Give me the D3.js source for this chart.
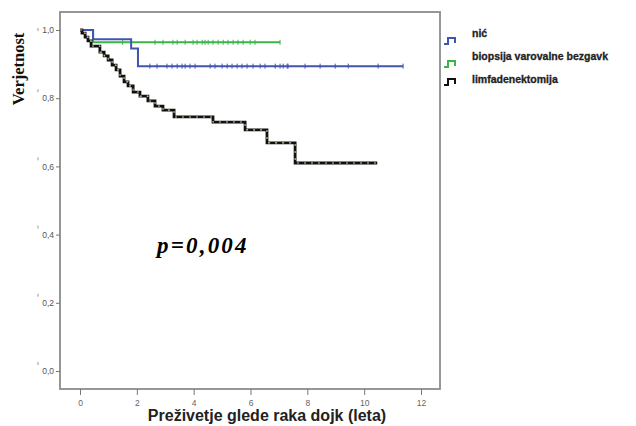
<!DOCTYPE html>
<html><head><meta charset="utf-8">
<script src="https://cdn.jsdelivr.net/npm/d3@7"></script>
<style>body{margin:0;background:#fff;}svg{display:block;}</style>
</head><body>
<svg id="c" width="636" height="426"></svg>
<script>
// ---- data ----
const seriesNames = ["nić", "biopsija varovalne bezgavk", "limfadenektomija"];
const seriesColors = ["#3f55b0", "#3cb44a", "#111111"];
// step curves: [time, survival after drop]
const blueSteps = [[0,1],[0.46,0.973],[1.80,0.946],[2.04,0.894]];
const blueEnd = 11.37;
const blueCensor = [2.46,2.71,3.06,3.24,3.42,3.59,3.70,3.87,4.05,4.58,4.75,5.00,5.18,5.35,5.53,5.70,5.88,6.09,6.34,6.51,6.87,7.04,7.29,7.15,7.32,7.92,8.45,8.98,9.44,10.49,11.37];
const greenSteps = [[0,1],[0.46,0.964]];
const greenEnd = 7.04;
const greenCensor = [1.50,2.64,2.92,3.27,3.42,3.70,3.98,4.12,4.30,4.40,4.51,4.68,4.86,5.04,5.21,5.39,5.56,5.74,5.99,6.16,7.04];
const blackSteps = [[0,1],[0.07,0.991],[0.18,0.979],[0.28,0.968],[0.39,0.953],[0.70,0.935],[0.85,0.924],[0.99,0.912],[1.13,0.897],[1.27,0.883],[1.41,0.865],[1.55,0.848],[1.69,0.836],[1.87,0.818],[2.11,0.806],[2.39,0.792],[2.64,0.777],[2.92,0.765],[3.31,0.745],[4.68,0.730],[5.81,0.707],[6.58,0.669],[7.57,0.610]];
const blackEnd = 10.46;
const xTicks = [0,2,4,6,8,10,12];
const yTicks = [0,0.2,0.4,0.6,0.8,1.0];
const xTitle = "Preživetje glede raka dojk (leta)";
const yTitle = "Verjetnost";
const pText = "p=0,004";

// ---- layout ----
const svg = d3.select("#c");
const x = d3.scaleLinear().domain([0,12]).range([80,421]);
const y = d3.scaleLinear().domain([0,1]).range([371,30]);
const frame = {l:60, t:12, r:440, b:389};

// frame
svg.append("rect").attr("x",frame.l).attr("y",frame.t)
  .attr("width",frame.r-frame.l).attr("height",frame.b-frame.t)
  .attr("fill","none").attr("stroke","#8c8c8c").attr("stroke-width",1.8);

// y axis
const fmt = d => d3.format(".1f")(d).replace(".", ",");
const yAxis = svg.append("g").attr("transform",`translate(${frame.l},0)`)
  .call(d3.axisLeft(y).tickValues(yTicks).tickSize(4).tickFormat(fmt));
yAxis.select(".domain").remove();
yAxis.selectAll("line").attr("stroke","#777");
yAxis.selectAll("text").attr("fill","#555").attr("font-family","Liberation Sans, Arial").attr("font-size",8.5).attr("dx",1);
// small stray marks above y labels
svg.append("g").selectAll("line").data(yTicks).join("line")
  .attr("x1",38).attr("x2",38)
  .attr("y1",d=> y(d) - (d===1?2:9)).attr("y2",d=> y(d) - (d===1?-1:6))
  .attr("stroke","#999").attr("stroke-width",1);

// x axis
const xAxis = svg.append("g").attr("transform",`translate(0,${frame.b})`)
  .call(d3.axisBottom(x).tickValues(xTicks).tickSize(6).tickFormat(d3.format("d")));
xAxis.select(".domain").remove();
xAxis.selectAll("line").attr("stroke","#777");
xAxis.selectAll("text").attr("fill","#666").attr("font-family","Liberation Sans, Arial").attr("font-size",8.5).attr("dy","0.9em");

// titles
svg.append("text").attr("transform","translate(24,69) rotate(-90)")
  .attr("text-anchor","middle").attr("font-family","Liberation Serif, Times New Roman")
  .attr("font-weight","bold").attr("font-size",16.5).attr("fill","#111").text(yTitle);
svg.append("text").attr("x",267).attr("y",421).attr("text-anchor","middle")
  .attr("font-family","Liberation Sans, Arial").attr("font-weight","bold")
  .attr("font-size",16).attr("fill","#222").text(xTitle);
svg.append("text").attr("x",157).attr("y",253)
  .attr("font-family","Liberation Serif, Times New Roman").attr("font-weight","bold")
  .attr("font-style","italic").attr("font-size",23).attr("letter-spacing",2.2)
  .attr("fill","#000").text(pText);

// step path builder
function stepPath(steps, end){
  const pts = [];
  steps.forEach((s,i)=>{
    if(i>0) pts.push([s[0], steps[i-1][1]]);
    pts.push([s[0], s[1]]);
  });
  pts.push([end, steps[steps.length-1][1]]);
  return d3.line().x(d=>x(d[0])).y(d=>y(d[1]))(pts);
}
function survAt(steps, t){
  let v = steps[0][1];
  steps.forEach(s=>{ if(s[0] <= t) v = s[1]; });
  return v;
}

// green
svg.append("path").attr("d",stepPath(greenSteps,greenEnd)).attr("fill","none")
  .attr("stroke",seriesColors[1]).attr("stroke-width",2);
svg.append("g").selectAll("line").data(greenCensor).join("line")
  .attr("x1",d=>x(d)).attr("x2",d=>x(d))
  .attr("y1",d=>y(survAt(greenSteps,d))-2.5).attr("y2",d=>y(survAt(greenSteps,d))+2.5)
  .attr("stroke",seriesColors[1]).attr("stroke-width",1);
// blue
svg.append("path").attr("d",stepPath(blueSteps,blueEnd)).attr("fill","none")
  .attr("stroke",seriesColors[0]).attr("stroke-width",2);
svg.append("g").selectAll("line").data(blueCensor).join("line")
  .attr("x1",d=>x(d)).attr("x2",d=>x(d))
  .attr("y1",d=>y(survAt(blueSteps,d))-2.5).attr("y2",d=>y(survAt(blueSteps,d))+2.5)
  .attr("stroke",seriesColors[0]).attr("stroke-width",1);
// black
const bp = stepPath(blackSteps,blackEnd);
svg.append("path").attr("d",bp).attr("fill","none")
  .attr("stroke",seriesColors[2]).attr("stroke-width",2.8);
svg.append("path").attr("d",bp).attr("fill","none")
  .attr("stroke","#d8cf98").attr("stroke-width",1.1).attr("stroke-dasharray","2,5");

// legend
const legY = [33,56,79];
const leg = svg.append("g");
seriesNames.forEach((n,i)=>{
  const iy = legY[i] + (i===2?3:8);
  leg.append("path").attr("d",`M444,${iy+3} H448 V${iy-3} H455 V${iy+2}`)
    .attr("fill","none").attr("stroke",seriesColors[i]).attr("stroke-width",2);
  leg.append("text").attr("x",472).attr("y",legY[i]+4)
    .attr("font-family","Liberation Sans, Arial").attr("font-weight","bold")
    .attr("font-size",10.5).attr("fill","#222").attr("stroke","#222").attr("stroke-width",0.3).text(n);
});
</script>
</body></html>
